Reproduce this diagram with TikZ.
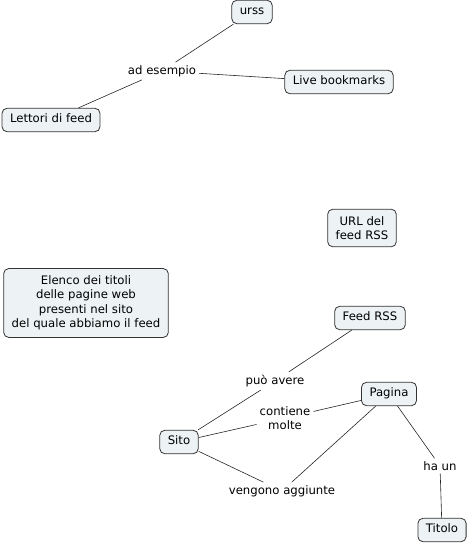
\documentclass[tikz,border=0pt]{standalone}
\usepackage{fontspec}
\setmainfont{DejaVu Sans}
\usepackage{tikz}
\usetikzlibrary{arrows.meta}

\definecolor{conceptfill}{HTML}{EDF3F5}
\definecolor{conceptline}{HTML}{333333}

\tikzset{
  box/.style={draw=conceptline, fill=conceptfill, rounded corners=5pt,
    inner xsep=8pt, align=center, thick},
  concept/.style={box, inner ysep=7pt, text height=0.72em, text depth=0.22em},
  multi/.style={box, inner ysep=7pt},
  phrase/.style={inner sep=3pt, align=center},
  link/.style={draw=black!85, semithick}
}

\begin{document}
\begin{tikzpicture}[x=1pt, y=-1pt, font=\fontsize{11.7}{14.5}\selectfont]
  \useasboundingbox (0,0) rectangle (470,545);
  % concepts
  \node[concept] (urss) at (252,12) {urss};
  \node[concept] (live) at (339,82) {Live bookmarks};
  \node[concept] (lettori) at (51,120) {Lettori di feed};
  \node[multi] (url) at (362,228) {URL del\\feed RSS};
  \node[multi] (elenco) at (86,303) {Elenco dei titoli\\delle pagine web\\presenti nel sito\\del quale abbiamo il feed};
  \node[concept] (feed) at (370,318) {Feed RSS};
  \node[concept] (pagina) at (389,394) {Pagina};
  \node[concept] (sito) at (179,442) {Sito};
  \node[concept] (titolo) at (442,530) {Titolo};
  % linking phrases
  \node[phrase] (esempio) at (162,71) {ad esempio};
  \node[phrase] (avere) at (275,381) {può avere};
  \node[phrase] (contiene) at (285,418) {contiene\\molte};
  \node[phrase] (haun) at (440,466) {ha un};
  \node[phrase] (aggiunte) at (282,491) {vengono aggiunte};
  % links
  \draw[link] (urss) -- (esempio);
  \draw[link] (esempio) -- (live);
  \draw[link] (esempio) -- (lettori);
  \draw[link] (feed) -- (avere);
  \draw[link] (avere) -- (sito);
  \draw[link] (sito) -- (contiene);
  \draw[link] (contiene) -- (pagina);
  \draw[link] (sito) -- (aggiunte);
  \draw[link] (aggiunte) -- (pagina);
  \draw[link] (pagina) -- (haun);
  \draw[link] (haun) -- (titolo);
\end{tikzpicture}
\end{document}
